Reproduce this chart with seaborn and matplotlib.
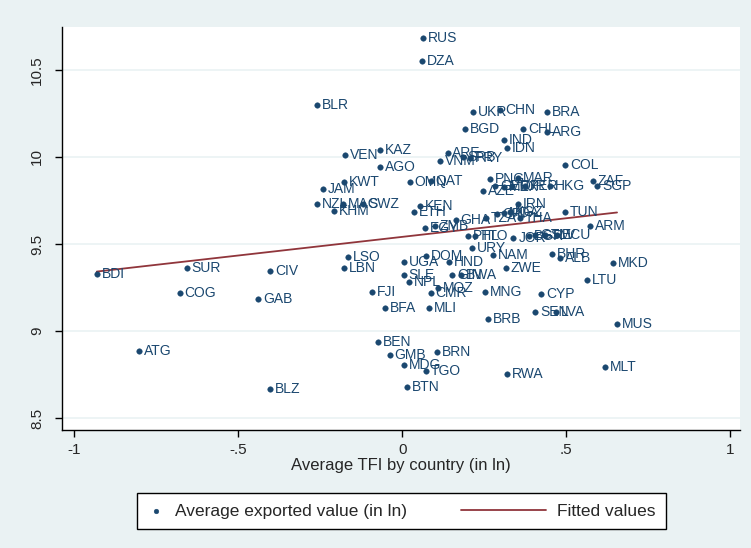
import matplotlib
matplotlib.use("Agg")
import matplotlib.pyplot as plt
from matplotlib.legend_handler import HandlerLine2D
import seaborn as sns
import numpy as np
import pandas as pd

countries = ["RUS","DZA","BLR","UKR","CHN","BRA","BGD","CHL","ARG","IND","IDN",
             "KAZ","VEN","AGO","ARE","VNM","SRB","PRY","COL","OMN","QAT","KWT",
             "JAM","NZL","MAC","SWZ","KHM","KEN","ETH","PNG","MAR","AZE","GEO",
             "MEX","TUR","PER","HKG","ZAF","SGP","IRN","TUN","ARM","EGY","ZMB",
             "GHA","TZA","CRI","MDA","KGZ","THA","TTO","PHL","JOR","BGR","GTM",
             "SLV","ECU","URY","DOM","UGA","HND","NAM","ZWE","BHR","ALB","MKD",
             "LTU","SLE","NPL","GIN","BWA","CMR","MOZ","FJI","BFA","MLI","GAB",
             "COG","SUR","CIV","BDI","LSO","LBN","ATG","BLZ","BEN","GMB","BRN",
             "MDG","TGO","BTN","RWA","MLT","MUS","MNG","CYP","BRB","SEN","LVA"]
tfi = [0.062,0.059,-0.26,0.216,0.299,0.442,0.19,0.369,0.442,0.309,0.318,
       -0.068,-0.175,-0.068,0.138,0.114,0.184,0.208,0.497,0.023,0.087,-0.178,
       -0.242,-0.26,-0.181,-0.12,-0.208,0.053,0.035,0.269,0.354,0.245,0.284,
       0.309,0.336,0.375,0.451,0.582,0.594,0.354,0.497,0.573,0.068,0.099,
       0.163,0.254,0.29,0.309,0.33,0.36,0.223,0.199,0.339,0.385,0.406,
       0.436,0.473,0.214,0.071,0.005,0.141,0.278,0.315,0.457,0.482,0.643,
       0.564,0.005,0.02,0.153,0.178,0.087,0.108,-0.093,-0.053,0.08,-0.439,
       -0.679,-0.658,-0.403,-0.932,-0.166,-0.178,-0.804,-0.403,-0.074,-0.038,0.105,
       0.005,0.071,0.014,0.318,0.619,0.655,0.251,0.424,0.26,0.406,0.47]
export = [10.684,10.552,10.299,10.259,10.27,10.259,10.161,10.161,10.144,10.098,10.052,
          10.04,10.011,9.943,10.023,9.977,10.0,9.994,9.954,9.856,9.862,9.856,
          9.816,9.73,9.73,9.73,9.69,9.718,9.684,9.874,9.879,9.805,9.833,
          9.828,9.833,9.833,9.833,9.862,9.833,9.73,9.684,9.603,9.592,9.603,
          9.638,9.649,9.672,9.678,9.684,9.649,9.546,9.546,9.534,9.546,9.552,
          9.552,9.552,9.477,9.431,9.397,9.397,9.437,9.362,9.443,9.42,9.391,
          9.293,9.322,9.282,9.322,9.322,9.218,9.247,9.224,9.132,9.132,9.184,
          9.218,9.362,9.345,9.328,9.425,9.362,8.885,8.667,8.937,8.862,8.879,
          8.805,8.770,8.678,8.753,8.793,9.04,9.224,9.213,9.069,9.109,9.109]

fit_intercept = 9.541
fit_slope = 0.214

xticks = [-1, -0.5, 0, 0.5, 1]
xtick_labels = ["-1", "-.5", "0", ".5", "1"]
yticks = [8.5, 9, 9.5, 10, 10.5]
ytick_labels = ["8.5", "9", "9.5", "10", "10.5"]

navy = "#1a476f"
maroon = "#90353b"
bg = "#eaf2f3"

sns.set_theme(style="white")
plt.rcParams["font.family"] = ["Liberation Sans", "DejaVu Sans"]

df = pd.DataFrame({"country": countries, "tfi": tfi, "export": export})
fx = np.array([min(tfi), max(tfi)])
fit_df = pd.DataFrame({"tfi": fx, "fit": fit_intercept + fit_slope * fx})

fig = plt.figure(figsize=(7.51, 5.48), dpi=100, facecolor=bg)
ax = fig.add_axes([0.0826, 0.2153, 0.9027, 0.7354])
ax.set_facecolor("white")

for yt in yticks:
    ax.axhline(yt, color=bg, lw=1.2, zorder=0)

sns.lineplot(data=fit_df, x="tfi", y="fit", ax=ax, color=maroon, lw=1.3,
             label="Fitted values", zorder=2)
sns.scatterplot(data=df, x="tfi", y="export", ax=ax, color=navy, s=16,
                edgecolor=navy, linewidth=0.3, label="Average exported value (in ln)",
                zorder=3)

for c, xv, yv in zip(countries, tfi, export):
    ax.annotate(c, (xv, yv), xytext=(3.5, 0), textcoords="offset points",
                va="center", ha="left", fontsize=10, color=navy, zorder=4)

ax.set_xlim(-1.038, 1.03)
ax.set_ylim(8.431, 10.747)
ax.set_xticks(xticks)
ax.set_xticklabels(xtick_labels, fontsize=11)
ax.set_yticks(yticks)
ax.set_yticklabels(ytick_labels, fontsize=11, rotation=90, va="center")
ax.tick_params(axis="both", direction="out", length=5, width=1, color="black",
               bottom=True, left=True, pad=4)
ax.tick_params(axis="y", pad=8)
for s in ["top", "right"]:
    ax.spines[s].set_visible(False)
for s in ["left", "bottom"]:
    ax.spines[s].set_color("black")
    ax.spines[s].set_linewidth(1)
ax.set_xlabel("Average TFI by country (in ln)", fontsize=12, labelpad=1)
ax.set_ylabel("")


class LongLine(HandlerLine2D):
    def get_xdata(self, legend, xdescent, ydescent, width, height, fontsize):
        xdata, xm = super().get_xdata(legend, xdescent, ydescent, width, height, fontsize)
        return np.array([-xdescent - 3.9 * fontsize, -xdescent + width]), xm


handles, labels = ax.get_legend_handles_labels()
ax.get_legend().remove()
i_pts = labels.index("Average exported value (in ln)")
i_fit = labels.index("Fitted values")
leg = fig.legend([handles[i_pts], handles[i_fit]], [labels[i_pts], labels[i_fit]],
                 loc="center", bbox_to_anchor=(0.5346, 0.0675), ncol=2,
                 fontsize=12.5, frameon=True, fancybox=False, edgecolor="black",
                 framealpha=1, columnspacing=7.0, handlelength=1.0,
                 handletextpad=0.6, markerscale=0.85, borderpad=0.6,
                 handler_map={handles[i_fit]: LongLine()})
leg.get_frame().set_linewidth(1)

fig.savefig("out.png", dpi=100, facecolor=bg)
